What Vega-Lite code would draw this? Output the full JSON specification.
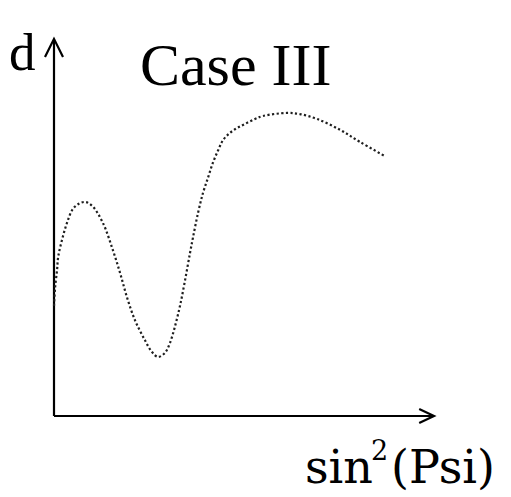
{
  "$schema": "https://vega.github.io/schema/vega-lite/v6.json",
  "width": 511,
  "height": 497,
  "autosize": {"type": "none"},
  "padding": 0,
  "background": "white",
  "config": {"view": {"stroke": null}},
  "datasets": {
    "curve": [
      {"s": 0.000, "d": 0.293},
      {"s": 0.003, "d": 0.343},
      {"s": 0.008, "d": 0.388},
      {"s": 0.011, "d": 0.423},
      {"s": 0.021, "d": 0.468},
      {"s": 0.034, "d": 0.513},
      {"s": 0.050, "d": 0.551},
      {"s": 0.068, "d": 0.566},
      {"s": 0.084, "d": 0.569},
      {"s": 0.103, "d": 0.556},
      {"s": 0.129, "d": 0.513},
      {"s": 0.155, "d": 0.441},
      {"s": 0.174, "d": 0.380},
      {"s": 0.192, "d": 0.316},
      {"s": 0.213, "d": 0.255},
      {"s": 0.239, "d": 0.202},
      {"s": 0.258, "d": 0.170},
      {"s": 0.274, "d": 0.157},
      {"s": 0.292, "d": 0.168},
      {"s": 0.305, "d": 0.194},
      {"s": 0.318, "d": 0.237},
      {"s": 0.332, "d": 0.295},
      {"s": 0.345, "d": 0.362},
      {"s": 0.358, "d": 0.434},
      {"s": 0.366, "d": 0.476},
      {"s": 0.379, "d": 0.540},
      {"s": 0.392, "d": 0.593},
      {"s": 0.405, "d": 0.633},
      {"s": 0.418, "d": 0.673},
      {"s": 0.432, "d": 0.707},
      {"s": 0.445, "d": 0.734},
      {"s": 0.463, "d": 0.753},
      {"s": 0.482, "d": 0.766},
      {"s": 0.503, "d": 0.777},
      {"s": 0.529, "d": 0.790},
      {"s": 0.550, "d": 0.798},
      {"s": 0.613, "d": 0.806},
      {"s": 0.647, "d": 0.803},
      {"s": 0.692, "d": 0.790},
      {"s": 0.753, "d": 0.761},
      {"s": 0.805, "d": 0.729},
      {"s": 0.871, "d": 0.691}
    ],
    "axes": [
      {"path": "xaxis", "i": 0, "s": 0.0, "d": 0.0},
      {"path": "xaxis", "i": 1, "s": 0.998, "d": 0.0},
      {"path": "xhead", "i": 0, "s": 0.961, "d": 0.0186},
      {"path": "xhead", "i": 1, "s": 1.0, "d": 0.0},
      {"path": "xhead", "i": 2, "s": 0.961, "d": -0.0186},
      {"path": "yaxis", "i": 0, "s": 0.0, "d": 0.0},
      {"path": "yaxis", "i": 1, "s": 0.0, "d": 0.998},
      {"path": "yhead", "i": 0, "s": -0.0237, "d": 0.955},
      {"path": "yhead", "i": 1, "s": 0.0, "d": 1.003},
      {"path": "yhead", "i": 2, "s": 0.0237, "d": 0.955}
    ],
    "title": [{"text": "Case III", "s": 0.226, "d": 0.880}],
    "ylabel": [{"text": "d", "s": -0.1184, "d": 0.920}],
    "xlabel": [
      {"text": "sin", "s": 0.6605, "d": -0.178},
      {"text": "(Psi)", "s": 0.8868, "d": -0.178}
    ],
    "xlabelsup": [{"text": "2", "s": 0.834, "d": -0.117}]
  },
  "encoding": {
    "x": {
      "field": "s",
      "type": "quantitative",
      "scale": {"domain": [-0.1421, 1.2026], "nice": false, "zero": false},
      "axis": null
    },
    "y": {
      "field": "d",
      "type": "quantitative",
      "scale": {"domain": [-0.2154, 1.1064], "nice": false, "zero": false},
      "axis": null
    }
  },
  "layer": [
    {
      "data": {"name": "axes"},
      "mark": {"type": "line", "color": "#000000", "strokeWidth": 2.2, "strokeCap": "butt", "strokeJoin": "miter"},
      "encoding": {
        "detail": {"field": "path"},
        "order": {"field": "i", "type": "quantitative"}
      }
    },
    {
      "data": {"name": "curve"},
      "mark": {"type": "line", "interpolate": "catmull-rom", "color": "#1e1e1e", "strokeWidth": 2.2, "strokeDash": [2.2, 2.4]},
      "encoding": {}
    },
    {
      "data": {"name": "title"},
      "mark": {"type": "text", "baseline": "alphabetic", "align": "left", "font": "Liberation Serif", "fontSize": 60, "color": "#000000"},
      "encoding": {"text": {"field": "text"}}
    },
    {
      "data": {"name": "ylabel"},
      "mark": {"type": "text", "baseline": "alphabetic", "align": "left", "font": "Liberation Serif", "fontSize": 53, "color": "#000000"},
      "encoding": {"text": {"field": "text"}}
    },
    {
      "data": {"name": "xlabel"},
      "mark": {"type": "text", "baseline": "alphabetic", "align": "left", "font": "DejaVu Serif", "fontSize": 46, "color": "#000000"},
      "encoding": {"text": {"field": "text"}}
    },
    {
      "data": {"name": "xlabelsup"},
      "mark": {"type": "text", "baseline": "alphabetic", "align": "left", "font": "DejaVu Serif", "fontSize": 27, "color": "#000000"},
      "encoding": {"text": {"field": "text"}}
    }
  ]
}
